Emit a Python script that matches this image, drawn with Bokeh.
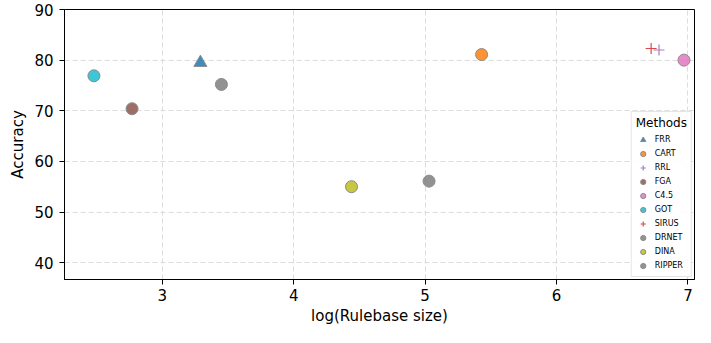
from bokeh.plotting import figure
from bokeh.models import Range1d, FixedTicker, Legend, LegendItem, ColumnDataSource
from bokeh.embed import file_html
from bokeh.resources import INLINE

# ---- data ----
methods = ["FRR", "CART", "RRL", "FGA", "C4.5", "GOT", "SIRUS", "DRNET", "DINA", "RIPPER"]
log_size = [3.29, 5.43, 6.78, 2.77, 6.97, 2.48, 6.72, 5.03, 4.44, 3.45]
accuracy = [79.5, 81.1, 82.0, 70.4, 80.0, 76.9, 82.3, 56.1, 55.0, 75.2]
colors = ["#1f77b4", "#ff7f0e", "#9467bd", "#8c564b", "#e377c2", "#17becf",
          "#d62728", "#7f7f7f", "#bcbd22", "#7f7f7f"]
markers = ["triangle", "circle", "cross", "circle", "circle", "circle",
           "cross", "circle", "circle", "circle"]
x_ticks = [3, 4, 5, 6, 7]
y_ticks = [40, 50, 60, 70, 80, 90]

FONT = "DejaVu Sans"

p = figure(width=695, height=327, output_backend="svg", toolbar_location=None,
           x_range=Range1d(2.256, 7.05), y_range=Range1d(36.67, 90),
           min_border_left=64, min_border_right=1, min_border_top=9, min_border_bottom=46)

p.outline_line_color = "black"
p.outline_line_width = 1
p.background_fill_color = "white"
p.border_fill_color = "white"

for ax in (p.xaxis[0], p.yaxis[0]):
    ax.axis_line_color = "black"
    ax.major_tick_line_color = "black"
    ax.major_tick_out = 5
    ax.major_tick_in = 0
    ax.minor_tick_line_color = None
    ax.major_label_text_font = FONT
    ax.major_label_text_font_size = "15px"
    ax.major_label_text_color = "black"
    ax.axis_label_text_font = FONT
    ax.axis_label_text_font_size = "15px"
    ax.axis_label_text_font_style = "normal"
    ax.axis_label_text_color = "black"

p.xaxis.ticker = FixedTicker(ticks=x_ticks)
p.yaxis.ticker = FixedTicker(ticks=y_ticks)
p.xaxis.axis_label = "log(Rulebase size)"
p.yaxis.axis_label = "Accuracy"
p.xaxis.major_label_standoff = 4
p.xaxis.axis_label_standoff = 3
p.yaxis.major_label_standoff = 6
p.yaxis.axis_label_standoff = 4

for g in (p.xgrid[0], p.ygrid[0]):
    g.grid_line_color = "#dcdcdc"
    g.grid_line_dash = "5 3"
    g.grid_line_width = 1

items = []
for m, x, y, c, mk in zip(methods, log_size, accuracy, colors, markers):
    src = ColumnDataSource(dict(x=[x], y=[y]))
    if mk == "cross":
        r = p.scatter("x", "y", source=src, marker="cross", size=11,
                      line_color=c, line_width=1.2, line_alpha=0.85)
    else:
        r = p.scatter("x", "y", source=src, marker=mk, size=13 if mk == "triangle" else 12,
                      fill_color=c, fill_alpha=0.85, line_color="#8a8a8a", line_width=1)
    items.append(LegendItem(label=m, renderers=[r]))

legend = Legend(items=items, location="bottom_right", title="Methods",
                title_text_font=FONT, title_text_font_size="12px", title_text_font_style="normal",
                title_text_color="black", title_standoff=3,
                label_text_font=FONT, label_text_font_size="8px", label_text_color="black",
                glyph_height=13, glyph_width=14, label_height=13, label_standoff=5,
                spacing=1, padding=4, margin=2,
                border_line_color="#cccccc", border_line_width=1,
                background_fill_alpha=0.9)
p.add_layout(legend)

open("out.html", "w").write(file_html(p, INLINE))
